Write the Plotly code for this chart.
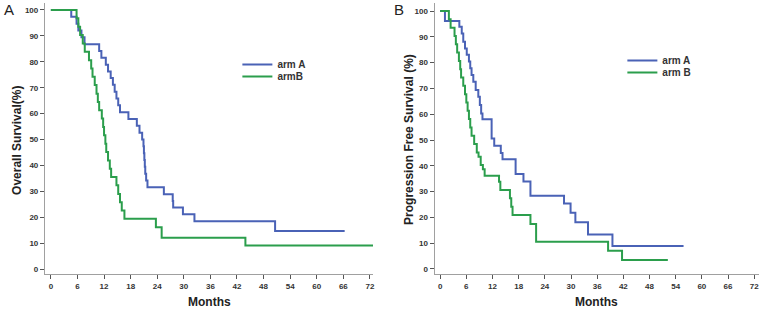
import plotly.graph_objects as go

# ---------------- data ----------------
os_a_months = [0, 4.6, 5.8, 6.2, 6.9, 7.6, 10.9, 11.4, 12.4, 12.9, 13.5, 14.0, 14.4, 14.8, 15.2, 15.6,
               17.5, 19.4, 20.0, 20.6, 20.9, 21.0, 21.1, 21.2, 21.3, 21.5, 21.8, 25.5, 27.5, 27.6,
               29.8, 32.4, 50.6, 66.3]
os_a_surv = [100, 97.4, 94.7, 92.1, 89.5, 86.8, 84.2, 81.6, 78.9, 76.3, 73.7, 71.1, 68.4, 65.8, 63.2, 60.5,
             57.9, 55.3, 52.6, 50.0, 47.4, 44.7, 42.1, 39.5, 36.8, 34.2, 31.6, 28.9, 26.3, 23.7,
             21.1, 18.4, 14.7, 14.7]

os_b_months = [0, 5.8, 6.2, 6.6, 7.2, 7.65, 8.6, 9.1, 9.4, 9.9, 10.3, 10.6, 10.9, 11.5, 11.8, 12.0,
               12.3, 12.5, 12.9, 13.3, 13.6, 14.8, 15.2, 15.6, 16.0, 16.6, 23.7, 25.0, 43.9, 72.7]
os_b_surv = [100, 96.8, 93.5, 90.3, 87.1, 83.9, 80.6, 77.4, 74.2, 71.0, 67.7, 64.5, 61.3, 58.1, 54.8, 51.6,
             48.4, 45.2, 41.9, 38.7, 35.5, 32.3, 29.0, 25.8, 22.6, 19.4, 16.1, 12.1, 9.1, 9.1]

pfs_a_months = [0, 1.1, 4.4, 4.95, 5.3, 5.7, 6.1, 6.6, 6.9, 7.2, 7.6, 8.15, 8.75, 9.1, 9.4, 9.7,
                11.8, 12.4, 13.9, 14.3, 17.3, 19.1, 20.7, 28.4, 29.9, 31.0, 33.9, 39.5, 55.8]
pfs_a_surv = [100, 96.1, 93.9, 91.3, 88.1, 85.5, 83.0, 80.4, 77.8, 75.2, 72.6, 69.4, 66.8, 63.6, 60.3, 58.0,
              50.6, 47.8, 45.0, 42.5, 36.8, 33.9, 28.4, 25.4, 21.8, 18.1, 13.4, 8.9, 8.9]

pfs_b_months = [0, 2.0, 2.4, 3.3, 3.6, 3.9, 4.3, 4.6, 4.8, 5.3, 5.7, 6.0, 6.3, 6.6, 6.9, 7.2,
                7.8, 8.4, 8.8, 9.3, 9.8, 10.2, 13.5, 13.8, 16.0, 16.3, 16.6, 20.7, 22.0, 38.5, 41.7, 52.2]
pfs_b_surv = [100, 96.8, 93.5, 90.3, 87.1, 83.9, 80.6, 77.4, 74.2, 71.0, 67.7, 64.5, 61.3, 58.1, 54.8, 51.6,
              48.4, 45.2, 43.5, 40.3, 38.7, 36.1, 33.8, 30.6, 27.4, 24.1, 20.9, 17.4, 10.6, 7.1, 3.5, 3.5]

x_ticks = [0, 6, 12, 18, 24, 30, 36, 42, 48, 54, 60, 66, 72]
y_ticks = [0, 10, 20, 30, 40, 50, 60, 70, 80, 90, 100]

names_a = ["arm A", "armB"]
names_b = ["arm A", "arm B"]

# ---------------- style ----------------
W, H = 766, 310
BLUE = "#4a62b6"
GREEN = "#2b9e4c"
FONT = "Liberation Sans, Arial, sans-serif"
NARROW = "Liberation Sans Narrow, Arial Narrow, Liberation Sans, sans-serif"

fig = go.Figure()

def km(x, y, name, color, xa, ya, leg):
    fig.add_trace(go.Scatter(
        x=x, y=y, name=name, mode="lines", line=dict(color=color, width=2, shape="hv"),
        xaxis=xa, yaxis=ya, legend=leg, hoverinfo="skip"))

km(os_a_months, os_a_surv, names_a[0], BLUE, "x", "y", "legend")
km(os_b_months, os_b_surv, names_a[1], GREEN, "x", "y", "legend2")
km(pfs_a_months, pfs_a_surv, names_b[0], BLUE, "x2", "y2", "legend3")
km(pfs_b_months, pfs_b_surv, names_b[1], GREEN, "x2", "y2", "legend4")

def px_x(p):
    return p / W

def px_y(p):
    return 1 - p / H

axis_common = dict(
    showline=True, linecolor="#a0a0a0", linewidth=1,
    ticks="outside", ticklen=4, tickwidth=1, tickcolor="#555555",
    tickfont=dict(family=NARROW, size=8, color="#333333", weight="bold"),
    showgrid=False, zeroline=False, fixedrange=True,
)

ydom = [px_y(274), px_y(3)]

def leg(xp, yp):
    return dict(x=px_x(xp), y=px_y(yp), xanchor="left", yanchor="top",
                bgcolor="rgba(0,0,0,0)", borderwidth=0, tracegroupgap=0,
                font=dict(family=FONT, size=10, color="#333333", weight="bold"))

fig.update_layout(
    width=W, height=H, autosize=False,
    margin=dict(l=0, r=0, t=0, b=0),
    paper_bgcolor="white", plot_bgcolor="white",
    xaxis=dict(domain=[px_x(45), px_x(374)], range=[-1.35, 72.7], anchor="y",
               tickvals=x_ticks, ticktext=[str(v) for v in x_ticks], **axis_common),
    yaxis=dict(domain=ydom, range=[-1.93, 102.7], anchor="x",
               tickvals=y_ticks, ticktext=[str(v) for v in y_ticks], **axis_common),
    xaxis2=dict(domain=[px_x(435.7), px_x(761)], range=[-1.28, 73.1], anchor="y2",
                tickvals=x_ticks, ticktext=[str(v) for v in x_ticks], **axis_common),
    yaxis2=dict(domain=ydom, range=[-1.94, 103.1], anchor="x2",
                tickvals=y_ticks, ticktext=[str(v) for v in y_ticks], **axis_common),
    legend=leg(238, 50),
    legend2=leg(238, 62),
    legend3=leg(624, 46),
    legend4=leg(624, 58),
    showlegend=True,
)

title_font = dict(family=FONT, size=12, color="#222222", weight="bold")
ann = [
    dict(text="A", x=px_x(9), y=px_y(10), font=dict(family=FONT, size=15, color="#222222")),
    dict(text="B", x=px_x(400), y=px_y(10), font=dict(family=FONT, size=15, color="#222222")),
    dict(text="Overall Survival(%)", x=px_x(17), y=px_y(140), textangle=-90, font=title_font),
    dict(text="Progression Free Survival (%)", x=px_x(410), y=px_y(139), textangle=-90, font=title_font),
    dict(text="Months", x=px_x(210), y=px_y(302), font=title_font),
    dict(text="Months", x=px_x(598), y=px_y(302), font=title_font),
]
for a in ann:
    fig.add_annotation(xref="paper", yref="paper", showarrow=False,
                       xanchor="center", yanchor="middle", **a)

fig.write_html("out.html", config={"displayModeBar": False},
               post_script="document.body.style.margin='0px';document.body.style.overflow='hidden';")
